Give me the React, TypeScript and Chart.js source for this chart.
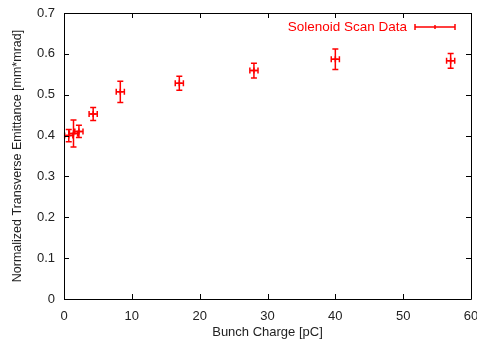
import React, { useEffect, useRef } from "react";
import { Chart, registerables } from "chart.js";

Chart.register(...registerables);

const charge = [0.7, 1.4, 2.2, 4.3, 8.3, 17.0, 28.0, 40.0, 57.0];
const emittance = [0.4, 0.405, 0.41, 0.453, 0.507, 0.528, 0.559, 0.587, 0.583];
const emittanceErr = [0.015, 0.033, 0.015, 0.016, 0.026, 0.017, 0.018, 0.025, 0.018];
const chargeErr = [0.6, 0.6, 0.6, 0.6, 0.6, 0.6, 0.6, 0.6, 0.6];
const xTicks = [0, 10, 20, 30, 40, 50, 60];
const yTicks = [0, 0.1, 0.2, 0.3, 0.4, 0.5, 0.6, 0.7];
const seriesLabel = "Solenoid Scan Data";
const xTitle = "Bunch Charge [pC]";
const yTitle = "Normalized Transverse Emittance [mm*mrad]";

const RED = "#ff0000";
const FONT = "'Liberation Sans', Arial, sans-serif";

const framePlugin = {
  id: "frameTicks",
  afterDraw(chart: any) {
    const { ctx, chartArea: a, scales } = chart;
    ctx.save();
    ctx.strokeStyle = "#000";
    ctx.lineWidth = 1;
    ctx.beginPath();
    ctx.rect(Math.round(a.left) + 0.5, Math.round(a.top) + 0.5, Math.round(a.right - a.left), Math.round(a.bottom - a.top));
    ctx.stroke();
    const tl = 5;
    ctx.beginPath();
    xTicks.forEach((v) => {
      const x = Math.round(scales.x.getPixelForValue(v)) + 0.5;
      ctx.moveTo(x, a.bottom);
      ctx.lineTo(x, a.bottom - tl);
      ctx.moveTo(x, a.top);
      ctx.lineTo(x, a.top + tl);
    });
    yTicks.forEach((v) => {
      const y = Math.round(scales.y.getPixelForValue(v)) + 0.5;
      ctx.moveTo(a.left, y);
      ctx.lineTo(a.left + tl, y);
      ctx.moveTo(a.right, y);
      ctx.lineTo(a.right - tl, y);
    });
    ctx.stroke();
    ctx.restore();
  },
};

const errorBarPlugin = {
  id: "errorBars",
  afterDatasetsDraw(chart: any) {
    const { ctx, scales } = chart;
    const xs = scales.x;
    const ys = scales.y;
    const cap = 3;
    ctx.save();
    ctx.strokeStyle = RED;
    ctx.lineWidth = 1.5;
    ctx.beginPath();
    charge.forEach((cx, i) => {
      const x = xs.getPixelForValue(cx);
      const y = ys.getPixelForValue(emittance[i]);
      const y1 = ys.getPixelForValue(emittance[i] - emittanceErr[i]);
      const y2 = ys.getPixelForValue(emittance[i] + emittanceErr[i]);
      const x1 = xs.getPixelForValue(cx - chargeErr[i]);
      const x2 = xs.getPixelForValue(cx + chargeErr[i]);
      ctx.moveTo(x, y1);
      ctx.lineTo(x, y2);
      ctx.moveTo(x - cap, y1);
      ctx.lineTo(x + cap, y1);
      ctx.moveTo(x - cap, y2);
      ctx.lineTo(x + cap, y2);
      ctx.moveTo(x1, y);
      ctx.lineTo(x2, y);
      ctx.moveTo(x1, y - cap);
      ctx.lineTo(x1, y + cap);
      ctx.moveTo(x2, y - cap);
      ctx.lineTo(x2, y + cap);
    });
    ctx.stroke();
    // legend
    const a = chart.chartArea;
    const ly = a.top + 14;
    const lx1 = a.right - 56;
    const lx2 = a.right - 16;
    ctx.fillStyle = RED;
    ctx.font = `13.5px ${FONT}`;
    ctx.textAlign = "right";
    ctx.textBaseline = "middle";
    ctx.fillText(seriesLabel, lx1 - 8, ly);
    ctx.beginPath();
    ctx.moveTo(lx1, ly);
    ctx.lineTo(lx2, ly);
    ctx.moveTo(lx1, ly - cap);
    ctx.lineTo(lx1, ly + cap);
    ctx.moveTo(lx2, ly - cap);
    ctx.lineTo(lx2, ly + cap);
    const mid = (lx1 + lx2) / 2;
    ctx.moveTo(mid, ly - 2);
    ctx.lineTo(mid, ly + 2);
    ctx.stroke();
    ctx.restore();
  },
};

export default function App() {
  const ref = useRef<HTMLCanvasElement>(null);
  useEffect(() => {
    document.body.style.margin = "0";
    const canvas = ref.current!;
    const chart = new Chart(canvas, {
      type: "scatter",
      data: {
        datasets: [
          {
            label: seriesLabel,
            data: charge.map((x, i) => ({ x, y: emittance[i] })),
            borderColor: RED,
            backgroundColor: RED,
            pointStyle: "cross",
            pointRadius: 3,
            borderWidth: 1.5,
          },
        ],
      },
      options: {
        responsive: false,
        animation: false,
        devicePixelRatio: 1,
        layout: { padding: { top: 13, right: 6, left: 0, bottom: 0 } },
        plugins: { legend: { display: false }, tooltip: { enabled: false } },
        scales: {
          x: {
            type: "linear",
            min: 0,
            max: 60,
            afterBuildTicks: (s: any) => {
              s.ticks = xTicks.map((v) => ({ value: v }));
            },
            afterFit: (s: any) => {
              s.height = 46;
              s.paddingLeft = 0;
              s.paddingRight = 0;
            },
            grid: { display: false, drawTicks: false },
            border: { display: false },
            ticks: { color: "#222", font: { family: FONT, size: 13 }, padding: 10, maxRotation: 0 },
            title: { display: true, text: xTitle, color: "#222", font: { family: FONT, size: 13 }, padding: { top: 0, bottom: 5 } },
          },
          y: {
            type: "linear",
            min: 0,
            max: 0.7,
            afterBuildTicks: (s: any) => {
              s.ticks = yTicks.map((v) => ({ value: v }));
            },
            afterFit: (s: any) => {
              s.width = 64;
              s.paddingTop = 0;
              s.paddingBottom = 0;
            },
            grid: { display: false, drawTicks: false },
            border: { display: false },
            ticks: {
              color: "#222",
              font: { family: FONT, size: 13 },
              padding: 9,
              callback: (v: any) => String(Math.round(v * 10) / 10),
            },
            title: { display: true, text: yTitle, color: "#222", font: { family: FONT, size: 12.5 }, padding: { top: 10, bottom: 0 } },
          },
        },
      },
      plugins: [framePlugin, errorBarPlugin],
    });
    return () => chart.destroy();
  }, []);
  return <canvas ref={ref} width={477} height={345} style={{ display: "block" }} />;
}
